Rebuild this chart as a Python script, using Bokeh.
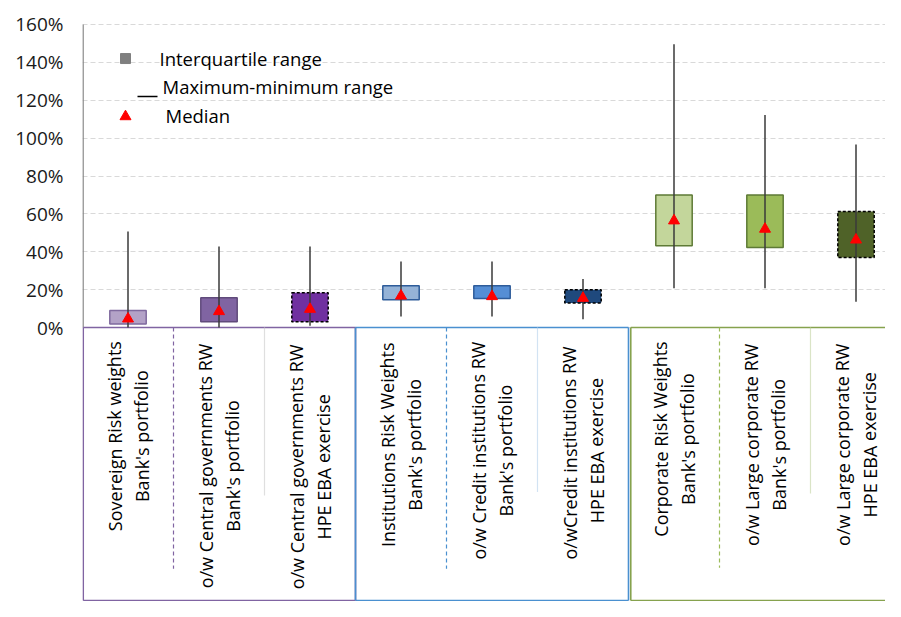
from bokeh.plotting import figure
from bokeh.models import ColumnDataSource, FixedTicker, PrintfTickFormatter, Range1d
from bokeh.core.properties import value
from bokeh.embed import file_html
from bokeh.resources import INLINE

# dades llegides de la gràfica (percentatges)
linia1 = ["Sovereign Risk weights", "o/w Central governments RW", "o/w Central governments RW",
          "Institutions Risk Weights", "o/w Credit institutions RW", "o/wCredit institutions  RW",
          "Corporate Risk Weights", "o/w Large corporate RW", "o/w Large corporate RW"]
linia2 = ["Bank's portfolio", "Bank's portfolio", "HPE EBA exercise",
          "Bank's portfolio", "Bank's portfolio", "HPE EBA exercise",
          "Bank's portfolio", "Bank's portfolio", "HPE EBA exercise"]
minims = [0.0, 0.0, 0.9, 5.8, 5.8, 4.4, 20.8, 20.8, 13.6]
q1 = [1.8, 3.0, 3.0, 14.6, 15.3, 13.0, 43.2, 42.3, 37.0]
medianes = [4.6, 8.5, 9.7, 16.7, 16.4, 15.5, 56.4, 52.0, 46.3]
q3 = [9.0, 15.7, 18.3, 22.0, 22.0, 19.9, 70.0, 70.0, 61.3]
maxims = [50.7, 42.8, 42.8, 34.9, 34.9, 25.6, 149.6, 112.2, 96.6]
ticks_y = [0, 20, 40, 60, 80, 100, 120, 140, 160]

# estil
farciment = ["#B3A2C7", "#8064A2", "#7030A0", "#95B3D7", "#558ED5", "#1F497D",
             "#C3D69B", "#9BBB59", "#4F6228"]
vora = ["#7F6A9E", "#604A7B", "#000000", "#2E5C9A", "#2E5C9A", "#000000",
        "#5E7A36", "#5E7A36", "#000000"]
ratllat = [False, False, True, False, False, True, False, False, True]
FONT = "Open Sans"

# geometria (px de la imatge de referència)
PX_CAT = 91.0
PX_PCT = 1.894
ZERO = 327
COMPR = (600 - ZERO) / (611 - ZERO)  # la zona d'etiquetes s'escurça una mica
def px_x(x):
    return (x - 82) / PX_CAT
def px_y(y):
    return (ZERO - y) / PX_PCT
def px_lab(y):
    return -(y - ZERO) * COMPR / PX_PCT

centre_text = [440, 471, 472, 449, 455, 455, 443, 449, 449]

W, H = 885, 601
TOP = 5
xf = (W - 82) / PX_CAT
p = figure(width=W, height=H, output_backend="svg", toolbar_location=None,
           x_range=Range1d(0, xf),
           y_range=Range1d(-(H - ZERO) / PX_PCT, 160 + (24 - TOP) / PX_PCT),
           min_border_left=82, min_border_right=0, min_border_top=TOP, min_border_bottom=0,
           x_axis_location=None)
p.outline_line_color = None

p.yaxis.ticker = FixedTicker(ticks=ticks_y)
p.yaxis.formatter = PrintfTickFormatter(format="%d%%")
p.yaxis.axis_line_color = None
p.yaxis.major_tick_line_color = None
p.yaxis.minor_tick_line_color = None
p.yaxis.major_tick_out = 0
p.yaxis.major_tick_in = 0
p.yaxis.major_label_standoff = 19
p.yaxis.major_label_text_font = FONT
p.yaxis.major_label_text_font_size = "19px"
p.yaxis.major_label_text_color = "#1a1a1a"
p.xgrid.grid_line_color = None
p.ygrid.grid_line_color = "#D9D9D9"
p.ygrid.grid_line_dash = "5 3"
p.ygrid.grid_line_width = 1.2

# eix vertical
p.segment(x0=[0.006], y0=[0], x1=[0.006], y1=[ticks_y[-1]], line_color="#868686", line_width=1.5)

# caixes dels grups de categories (la verda queda tallada per la dreta)
baix = px_lab(611)
fi = xf - 0.004
p.segment(x0=[0.008, 3.0, 6.025], y0=[0, 0, 0], x1=[3.0, 6.0, fi], y1=[0, 0, 0],
          line_color=["#8064A2", "#4A90D0", "#86A24E"], line_width=1.6)
p.segment(x0=[0.008, 3.0, 6.025], y0=[baix] * 3, x1=[3.0, 6.0, fi], y1=[baix] * 3,
          line_color=["#8064A2", "#4A90D0", "#86A24E"], line_width=1.6)
p.segment(x0=[0.008, 3.0, 3.0, 6.0, 6.025], y0=[0] * 5, x1=[0.008, 3.0, 3.0, 6.0, 6.025], y1=[baix] * 5,
          line_color=["#8064A2", "#8064A2", "#4A90D0", "#4A90D0", "#86A24E"], line_width=1.6)

# separadors
p.segment(x0=[1], y0=[0], x1=[1], y1=[px_lab(578)], line_color="#8064A2", line_dash="4 3", line_width=1.2)
p.segment(x0=[2], y0=[0], x1=[2], y1=[px_lab(502)], line_color="#BFBFBF", line_dash="1 1", line_width=1.2)
p.segment(x0=[4], y0=[0], x1=[4], y1=[px_lab(578)], line_color="#4A90D0", line_dash="4 3", line_width=1.2)
p.segment(x0=[5], y0=[0], x1=[5], y1=[px_lab(498)], line_color="#A6C8E8", line_dash="1 1", line_width=1.2)
p.segment(x0=[7], y0=[0], x1=[7], y1=[px_lab(577)], line_color="#9BBB59", line_dash="4 3", line_width=1.2)
p.segment(x0=[8], y0=[0], x1=[8], y1=[px_lab(500)], line_color="#B5C98E", line_dash="1 1", line_width=1.2)

x = [i + 0.5 for i in range(len(linia1))]

# caixes (rang interquartil)
for dash in (False, True):
    idx = [i for i in range(len(x)) if ratllat[i] == dash]
    src = ColumnDataSource(data={
        "x": [x[i] for i in idx], "q1": [q1[i] for i in idx], "q3": [q3[i] for i in idx],
        "fill": [farciment[i] for i in idx], "vora": [vora[i] for i in idx]})
    p.vbar(x="x", width=0.4, bottom="q1", top="q3", source=src, fill_color="fill",
           line_color="vora", line_width=1.5, line_dash="3 2" if dash else "solid")

# màxim-mínim
p.segment(x0=x, y0=minims, x1=x, y1=maxims, line_color="#3A3A3A", line_width=1.5)

# mediana
p.scatter(x=x, y=medianes, marker="triangle", size=11, color="#FF0000")

# etiquetes de categoria
y_text = [px_lab(c) for c in centre_text]
off = 13.5 / PX_CAT
p.text(x=[v - off for v in x], y=y_text, text=linia1, angle=1.5708, text_align="center",
       text_baseline="middle", text_font=value(FONT), text_font_size="18px", text_color="#000000")
p.text(x=[v + off for v in x], y=y_text, text=linia2, angle=1.5708, text_align="center",
       text_baseline="middle", text_font=value(FONT), text_font_size="18px", text_color="#000000")

# llegenda
p.scatter(x=[px_x(125)], y=[px_y(58)], marker="square", size=10, color="#7F7F7F")
p.segment(x0=[px_x(137)], y0=[px_y(96)], x1=[px_x(157)], y1=[px_y(96)], line_color="#000000", line_width=1.5)
p.scatter(x=[px_x(125)], y=[px_y(116)], marker="triangle", size=11, color="#FF0000")
p.text(x=[px_x(159), px_x(162), px_x(165)], y=[px_y(58), px_y(86), px_y(115)],
       text=["Interquartile range", "Maximum-minimum range", "Median"],
       text_align="left", text_baseline="middle", text_font=value(FONT),
       text_font_size="18.5px", text_color="#000000")

open("out.html", "w").write(file_html(p, INLINE))
